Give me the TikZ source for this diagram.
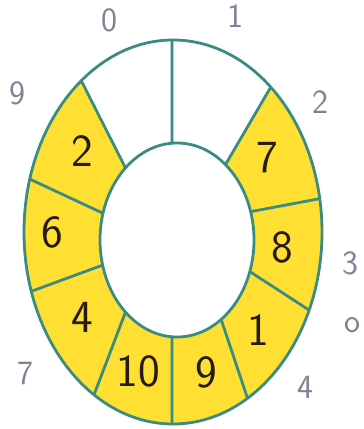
\documentclass[tikz,border=0pt]{standalone}
\definecolor{ringline}{RGB}{58,140,130}
\definecolor{slotfill}{RGB}{255,224,50}
\definecolor{idxgray}{RGB}{130,130,148}
\begin{document}
\begin{tikzpicture}[x=1pt,y=-1pt,
  val/.style={font=\sffamily\fontsize{46}{46}\selectfont,text=black!80!brown,inner sep=0pt},
  idx/.style={font=\sffamily\fontsize{34}{34}\selectfont,text=idxgray,inner sep=0pt}]
\useasboundingbox (0,0) rectangle (364,429);
% occupied slots
\fill[slotfill] plot[domain=128:409,samples=90] ({173+149*cos(\x)},{232-192*sin(\x)})
  -- plot[domain=411:132,samples=90] ({177+77*cos(\x)},{240-97*sin(\x)}) -- cycle;
\draw[ringline,line width=2.8pt] (173,232) ellipse [x radius=149,y radius=192];
\draw[ringline,line width=2.8pt] (177,240) ellipse [x radius=77,y radius=97];
\foreach \n/\a/\b in {1/90.4/93.7,2/49/51,3/10/17,4/-24/-19,5/-60/-55,6/-90.4/-93.7,7/-122/-132,8/198/195,9/164/164,10/128/132}{
  \coordinate (out\n) at ({173+149*cos(\a)},{232-192*sin(\a)});
  \coordinate (in\n) at ({177+77*cos(\b)},{240-97*sin(\b)});
  \draw[ringline,line width=2.8pt] (out\n) -- (in\n);}
\foreach \n/\px/\py/\t in {a/82/151/2,b/52/232/6,c/82/317/4,d/138/371/10,e/206/372/9,f/258/330/1,g/282/247/8,h/267/158/7}{
  \node[val] (val\n) at (\px,\py) {\t};}
\foreach \n/\px/\py/\t in {0/109/20/0,1/235/16/1,2/320/102/2,3/350/263/3,o/352/325/o,4/305/387/4,7/25/373/7,9/17/93/9}{
  \node[idx] (idx\n) at (\px,\py) {\t};}
\end{tikzpicture}
\end{document}
